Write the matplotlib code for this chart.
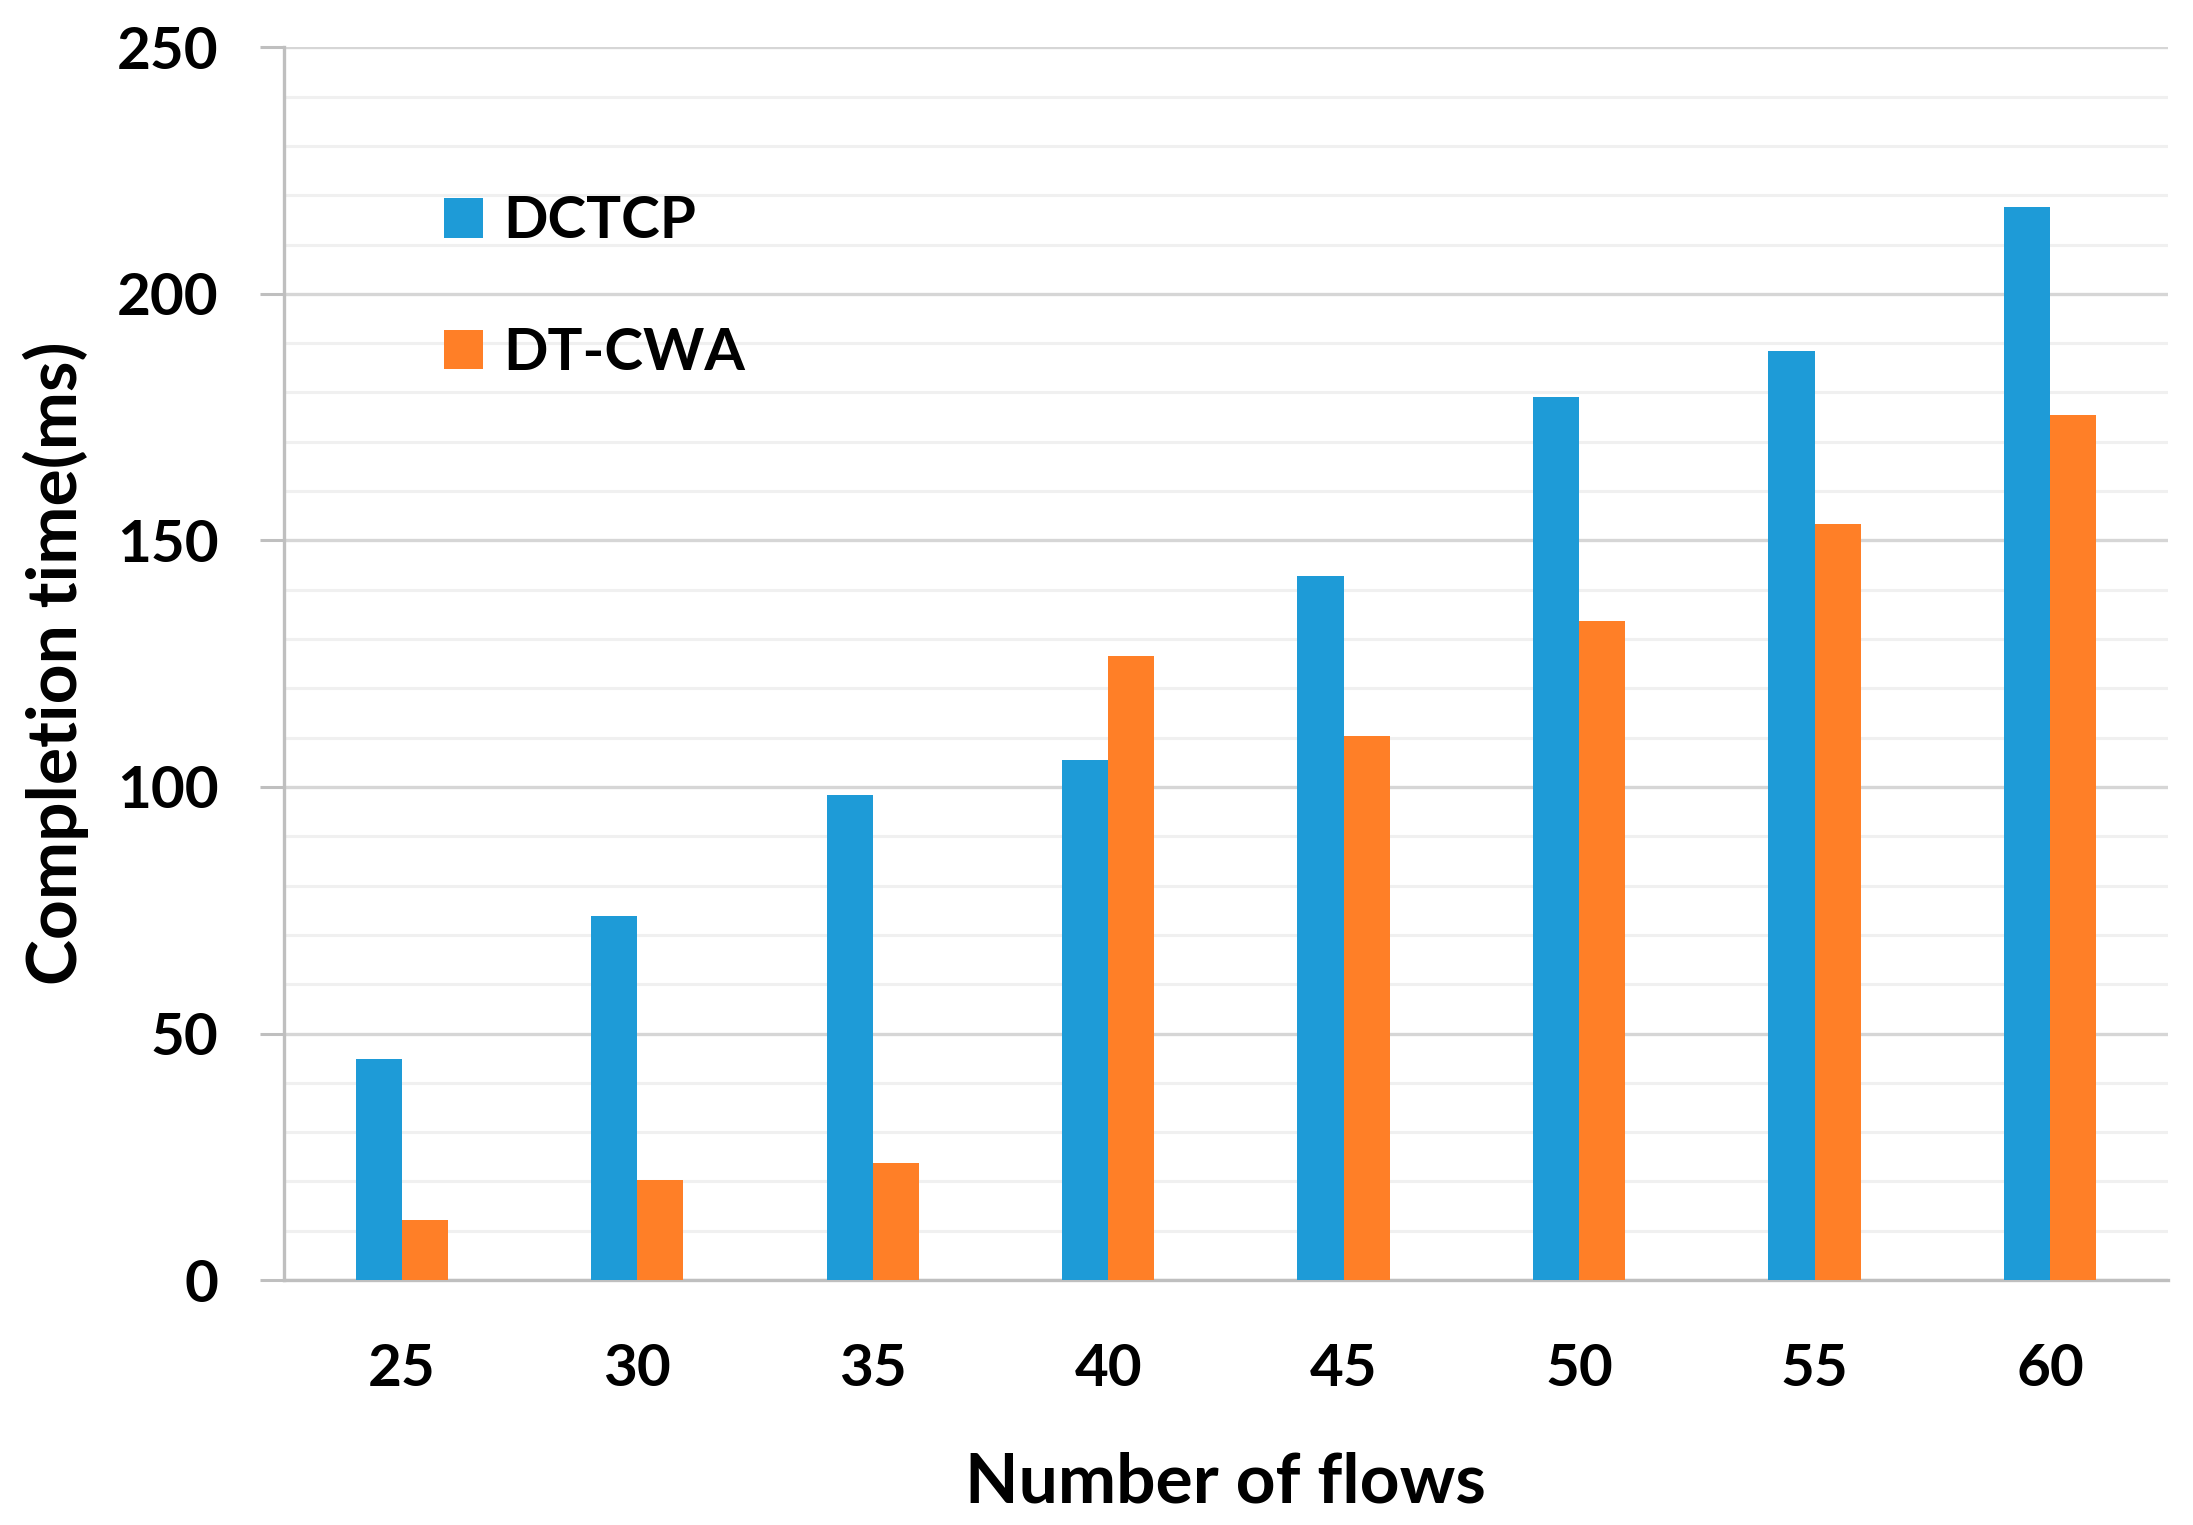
import matplotlib
matplotlib.use("Agg")
import matplotlib.pyplot as plt
import numpy as np

plt.rcParams['font.family'] = ['Lato', 'DejaVu Sans']
plt.rcParams['font.weight'] = 'bold'

# values
flows = ["25", "30", "35", "40", "45", "50", "55", "60"]
dctcp = [44.8, 73.8, 98.4, 105.5, 142.7, 179.0, 188.5, 217.6]
dtcwa = [12.2, 20.2, 23.8, 126.5, 110.3, 133.6, 153.4, 175.5]

fig = plt.figure(figsize=(21.93, 15.25), dpi=100)
ax = fig.add_axes([0.1295, 0.1606, 0.859, 0.8084])

x = np.arange(len(flows))
w = 0.196
ax.bar(x - w / 2, dctcp, w, color="#1E9BD7", label="DCTCP", zorder=3)
ax.bar(x + w / 2, dtcwa, w, color="#FF7F27", label="DT-CWA", zorder=3)

ax.set_xlim(-0.5, len(flows) - 0.5)
ax.set_ylim(0, 250)
ax.set_yticks(np.arange(0, 251, 50))
ax.set_yticks(np.arange(0, 251, 10), minor=True)
ax.set_xticks(x)
ax.set_xticklabels(flows)

ax.grid(axis="y", which="major", color="#d6d6d6", linewidth=2.4, zorder=0)
ax.grid(axis="y", which="minor", color="#f0f0f0", linewidth=2.2, zorder=0)
ax.set_axisbelow(True)

for s in ["top", "right"]:
    ax.spines[s].set_visible(False)
for s in ["left", "bottom"]:
    ax.spines[s].set_color("#bfbfbf")
    ax.spines[s].set_linewidth(2.4)

ax.tick_params(axis="y", which="major", length=17, width=2.2, color="#bfbfbf",
               labelsize=42, pad=30)
ax.tick_params(axis="y", which="minor", length=0)
ax.tick_params(axis="x", length=0, labelsize=42, pad=45)

ax.set_xlabel("Number of flows", fontsize=50, fontweight="bold", labelpad=40)
ax.set_ylabel("Completion time(ms)", fontsize=50, fontweight="bold", labelpad=20)

ax.legend(loc="upper left", bbox_to_anchor=(0.085, 0.88), frameon=False,
          fontsize=42, handlelength=0.67, handleheight=0.67,
          handletextpad=0.35, labelspacing=1.35, borderpad=0, borderaxespad=0)

fig.savefig("out.png", dpi=100)
